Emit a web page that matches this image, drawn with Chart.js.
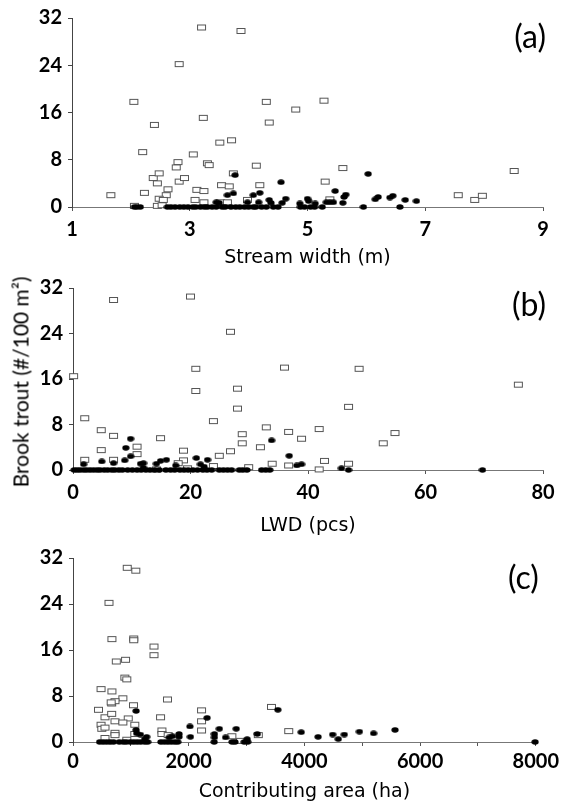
<!DOCTYPE html>
<html>
<head>
<meta charset="utf-8">
<script src="https://cdn.jsdelivr.net/npm/chart.js@4"></script>
<style>
  body { margin: 0; background: #fff; }
  .wrap { position: absolute; left: 0; width: 563px; }
  canvas { display: block; }
  #ytitle {
    position: absolute; left: 20px; top: 382px;
    transform: translate(-50%, -50%) rotate(-90deg);
    font: 21px Lato, sans-serif; color: #000; white-space: nowrap;
  }
</style>
</head>
<body>
<div class="wrap" style="top:0"><canvas id="ca" width="563" height="270"></canvas></div>
<div class="wrap" style="top:270px"><canvas id="cb" width="563" height="270"></canvas></div>
<div class="wrap" style="top:540px"><canvas id="cc" width="563" height="266"></canvas></div>
<div id="ytitle"></div>
<script>
// panel (a): stream width (m) vs brook trout (#/100 m2)
const widthOpen = [
  [3.20, 30.4], [3.87, 29.8], [2.82, 24.2], [2.05, 17.8], [2.40, 13.9], [4.30, 17.8],
  [3.23, 15.1], [4.80, 16.5], [5.28, 18.0], [4.35, 14.3], [2.20, 9.3], [3.51, 10.9],
  [3.71, 11.3], [3.06, 8.9], [2.80, 7.6], [2.77, 6.7], [3.30, 7.4], [3.33, 7.1],
  [4.13, 7.0], [5.60, 6.6], [8.51, 6.1], [2.38, 4.9], [2.48, 5.7], [2.45, 4.0],
  [2.82, 4.3], [2.91, 4.9], [3.74, 5.7], [3.54, 3.7], [3.67, 3.5], [4.19, 3.7],
  [5.30, 4.3], [3.12, 2.9], [3.24, 2.7], [2.63, 3.0], [2.23, 2.4], [1.66, 2.0],
  [2.60, 2.0], [2.48, 1.4], [2.55, 1.2], [3.09, 1.2], [3.24, 0.8], [3.52, 0.8],
  [3.64, 0.8], [3.98, 1.2], [5.38, 1.3], [7.56, 2.0], [7.84, 1.2], [7.97, 1.9],
  [2.06, 0.2], [2.45, 0.2], [2.53, 0.3]
];
const widthFilled = [
  [3.77, 5.4], [4.55, 4.2], [6.03, 5.6], [5.47, 2.7], [3.74, 2.3], [3.64, 2.0],
  [4.08, 2.0], [4.19, 2.4], [4.63, 1.4], [5.65, 2.1], [5.62, 1.7], [5.00, 1.4],
  [6.15, 1.3], [6.20, 1.7], [6.40, 1.6], [6.45, 1.9], [6.66, 1.2], [6.85, 1.0],
  [3.45, 0.8], [3.50, 0.7], [3.98, 0.8], [4.17, 0.8], [4.35, 1.2], [4.38, 0.7],
  [4.57, 0.7], [4.87, 0.6], [5.02, 1.0], [5.13, 0.6], [5.32, 0.8], [5.38, 0.8],
  [5.44, 0.8], [5.60, 0.7], [5.95, 0], [6.57, 0],
  [2.06, 0], [2.10, 0], [2.16, 0], [2.62, 0], [2.68, 0], [2.75, 0], [2.83, 0],
  [2.90, 0], [2.97, 0], [3.05, 0], [3.10, 0], [3.18, 0], [3.25, 0], [3.30, 0],
  [3.38, 0], [3.45, 0], [3.55, 0], [3.60, 0], [3.70, 0], [3.78, 0], [3.85, 0],
  [3.93, 0], [4.00, 0], [4.08, 0], [4.12, 0], [4.22, 0], [4.30, 0], [4.42, 0],
  [4.50, 0], [4.88, 0], [4.95, 0], [5.05, 0], [5.12, 0], [5.25, 0]
];

// panel (b): LWD (pcs)
const lwdOpen = [
  [6.9, 29.9], [20.0, 30.5], [26.8, 24.3], [0.1, 16.5], [20.9, 17.8], [36.0, 18.0],
  [48.7, 17.8], [75.8, 15.0], [20.9, 13.9], [28.0, 14.3], [28.0, 10.8], [46.9, 11.1],
  [2.0, 9.1], [23.9, 8.6], [4.8, 7.0], [6.9, 6.0], [14.9, 5.6], [32.9, 7.5],
  [36.7, 6.7], [41.9, 7.2], [28.8, 6.3], [38.9, 5.5], [54.8, 6.5], [52.8, 4.7],
  [4.8, 3.5], [10.9, 4.1], [10.9, 2.8], [18.8, 3.4], [28.8, 4.7], [31.9, 4.0],
  [24.9, 2.5], [26.8, 3.3], [2.0, 1.8], [6.9, 1.8], [18.8, 1.7], [17.9, 1.2],
  [23.9, 0.7], [29.9, 0.5], [33.9, 1.1], [36.7, 0.8], [42.8, 1.6], [46.9, 1.1],
  [41.9, 0.1], [14.2, 0.1], [19.5, 0.3]
];
const lwdFilled = [
  [9.8, 5.5], [9.0, 3.9], [9.8, 2.4], [33.8, 5.2], [36.8, 2.5], [4.9, 1.5],
  [6.9, 1.2], [8.8, 1.7], [12.0, 1.2], [14.2, 1.1], [14.9, 1.6], [15.9, 1.8],
  [21.0, 2.1], [22.9, 1.8], [21.7, 1.0], [38.1, 0.8], [38.9, 1.0], [45.7, 0.3],
  [1.8, 1.0], [11.5, 1.1], [12.0, 0.4], [17.5, 0.8], [22.3, 0.6],
  [46.9, 0], [69.7, 0],
  [0.2, 0], [0.7, 0], [1.2, 0], [1.8, 0], [2.3, 0], [2.9, 0], [3.5, 0], [4.1, 0],
  [4.6, 0], [5.3, 0], [5.9, 0], [6.6, 0], [7.1, 0], [7.8, 0], [8.4, 0], [9.3, 0],
  [10.1, 0], [10.9, 0], [11.6, 0], [12.4, 0], [13.1, 0], [13.9, 0], [14.7, 0],
  [15.8, 0], [16.6, 0], [17.3, 0], [18.2, 0], [18.9, 0], [19.6, 0], [20.4, 0],
  [21.2, 0], [22.1, 0], [22.8, 0], [23.6, 0], [24.9, 0], [25.6, 0], [26.3, 0],
  [27.0, 0], [28.3, 0], [28.9, 0], [29.6, 0], [32.1, 0], [32.8, 0], [33.5, 0]
];

// panel (c): contributing area (ha)
const areaOpen = [
  [937, 30.3], [1085, 29.8], [622, 24.2], [673, 17.9], [1050, 18.0], [1050, 17.7],
  [1400, 16.6], [1400, 15.1], [748, 14.0], [908, 14.3], [896, 11.2], [930, 10.9],
  [485, 9.2], [673, 8.8], [862, 7.6], [1633, 7.4], [668, 6.7], [725, 7.1],
  [660, 6.9], [1045, 6.4], [440, 5.6], [2222, 5.5], [3431, 6.1], [553, 4.3],
  [954, 4.1], [1513, 4.3], [2222, 3.6], [668, 4.9], [725, 3.6], [862, 3.4],
  [1068, 3.0], [485, 3.0], [497, 2.3], [553, 2.5], [2222, 2.0], [3729, 1.9],
  [1537, 2.0], [1537, 1.4], [725, 1.6], [725, 1.2], [1068, 1.4], [1645, 1.2],
  [2746, 1.0], [3203, 1.2], [553, 0.7], [930, 0.4], [2897, 0.2]
];
const areaFilled = [
  [1091, 5.4], [2318, 4.2], [3541, 5.6], [1091, 2.1], [2021, 2.7], [2530, 2.3],
  [2821, 2.3], [2030, 0.9], [2444, 1.4], [2444, 0.8], [2638, 0.8], [3010, 0.5],
  [3186, 1.4], [3945, 1.7], [4237, 0.9], [4488, 1.3], [4586, 0.5], [4689, 1.3],
  [4951, 1.8], [5196, 1.5], [5567, 2.1], [7988, 0],
  [1165, 1.3], [1273, 0.9], [1662, 0.8], [1720, 1.0], [1833, 1.4], [1833, 0.9],
  [1100, 1.5], [1240, 0.5],
  [460, 0], [520, 0], [580, 0], [640, 0], [700, 0], [800, 0], [870, 0], [920, 0],
  [990, 0], [1050, 0], [1110, 0], [1170, 0], [1240, 0], [1290, 0], [1520, 0],
  [1580, 0], [1640, 0], [1700, 0], [1760, 0], [1810, 0], [2440, 0], [2750, 0],
  [2800, 0], [2960, 0], [3020, 0]
];

const yTicks = [0, 8, 16, 24, 32];
const yTitle = 'Brook trout (#/100 m²)';

const FONT = 'Lato';
const TITLE_FONT = 'DejaVu Sans';

document.getElementById('ytitle').textContent = yTitle;

// open rectangle marker
const sq = document.createElement('canvas');
sq.width = 11; sq.height = 8;
{
  const c = sq.getContext('2d');
  c.fillStyle = '#fff';
  c.fillRect(1, 1, 9, 6);
  c.strokeStyle = '#555';
  c.lineWidth = 1;
  c.strokeRect(1.5, 1.5, 8, 5);
}
// filled ellipse marker
const dot = document.createElement('canvas');
dot.width = 8; dot.height = 6;
{
  const c = dot.getContext('2d');
  c.fillStyle = '#000';
  c.beginPath();
  c.ellipse(4, 3, 3.6, 2.7, 0, 0, Math.PI * 2);
  c.fill();
}

const toPts = arr => arr.map(p => ({x: p[0], y: p[1]}));

const panelLabel = {
  id: 'panelLabel',
  afterDraw(chart, args, opts) {
    const {ctx, chartArea} = chart;
    ctx.save();
    ctx.font = '32px ' + FONT;
    ctx.fillStyle = '#000';
    ctx.textAlign = 'right';
    ctx.textBaseline = 'middle';
    ctx.fillText(opts.text, chartArea.right + 3, chartArea.top + opts.dy);
    ctx.restore();
  }
};

function makeChart(id, o) {
  new Chart(document.getElementById(id), {
    type: 'scatter',
    data: {
      datasets: [
        { label: 'filled circles', data: toPts(o.filled), pointStyle: dot, clip: false },
        { label: 'open squares', data: toPts(o.open), pointStyle: sq, clip: false }
      ]
    },
    options: {
      responsive: false,
      animation: false,
      events: [],
      layout: { padding: { top: o.top, right: o.right, left: 0, bottom: 0 } },
      plugins: {
        legend: { display: false },
        tooltip: { enabled: false },
        panelLabel: { text: o.label, dy: o.labelDy }
      },
      scales: {
        x: {
          type: 'linear',
          min: o.xMin, max: o.xMax,
          afterFit: s => { s.height = o.xHeight; },
          afterBuildTicks: s => { s.ticks = o.xTicks.map(v => ({value: v})); },
          border: { color: '#777', width: 1 },
          grid: { drawOnChartArea: false, tickLength: 4, color: '#555' },
          ticks: {
            padding: o.xPad,
            color: '#000',
            font: { family: FONT, size: 20, weight: 'bold' },
            callback: v => o.xLabels.includes(v) ? String(v) : ''
          },
          title: {
            display: true, text: o.xTitle, color: '#000',
            font: { family: TITLE_FONT, size: 19 },
            padding: { top: 0, bottom: o.xTitlePad }
          }
        },
        y: {
          type: 'linear',
          min: 0, max: 32,
          afterFit: s => { s.width = o.yWidth; },
          afterBuildTicks: s => { s.ticks = yTicks.map(v => ({value: v})); },
          border: { color: '#444', width: 1 },
          grid: { drawOnChartArea: false, tickLength: 4, color: '#444' },
          ticks: {
            padding: 6,
            color: '#000',
            font: { family: FONT, size: 20, weight: 'bold' }
          }
        }
      }
    },
    plugins: [panelLabel]
  });
}

makeChart('ca', {
  open: widthOpen, filled: widthFilled,
  xMin: 1, xMax: 9, xTicks: [1, 3, 5, 7, 9], xLabels: [1, 3, 5, 7, 9],
  xTitle: 'Stream width (m)', label: '(a)', labelDy: 20,
  top: 17, right: 20, xHeight: 63, xPad: 7, xTitlePad: 1, yWidth: 72
});
makeChart('cb', {
  open: lwdOpen, filled: lwdFilled,
  xMin: 0, xMax: 80, xTicks: [0, 20, 40, 60, 80], xLabels: [0, 20, 40, 60, 80],
  xTitle: 'LWD (pcs)', label: '(b)', labelDy: 18,
  top: 10, right: 20, xHeight: 70, xPad: 7, xTitlePad: 3, yWidth: 73
});
makeChart('cc', {
  open: areaOpen, filled: areaFilled,
  xMin: 0, xMax: 8000,
  xTicks: [0, 1000, 2000, 3000, 4000, 5000, 6000, 7000, 8000],
  xLabels: [0, 2000, 4000, 6000, 8000],
  xTitle: 'Contributing area (ha)', label: '(c)', labelDy: 21,
  top: 7, right: 23, xHeight: 64, xPad: 4, xTitlePad: 3, yWidth: 73
});
</script>
</body>
</html>
